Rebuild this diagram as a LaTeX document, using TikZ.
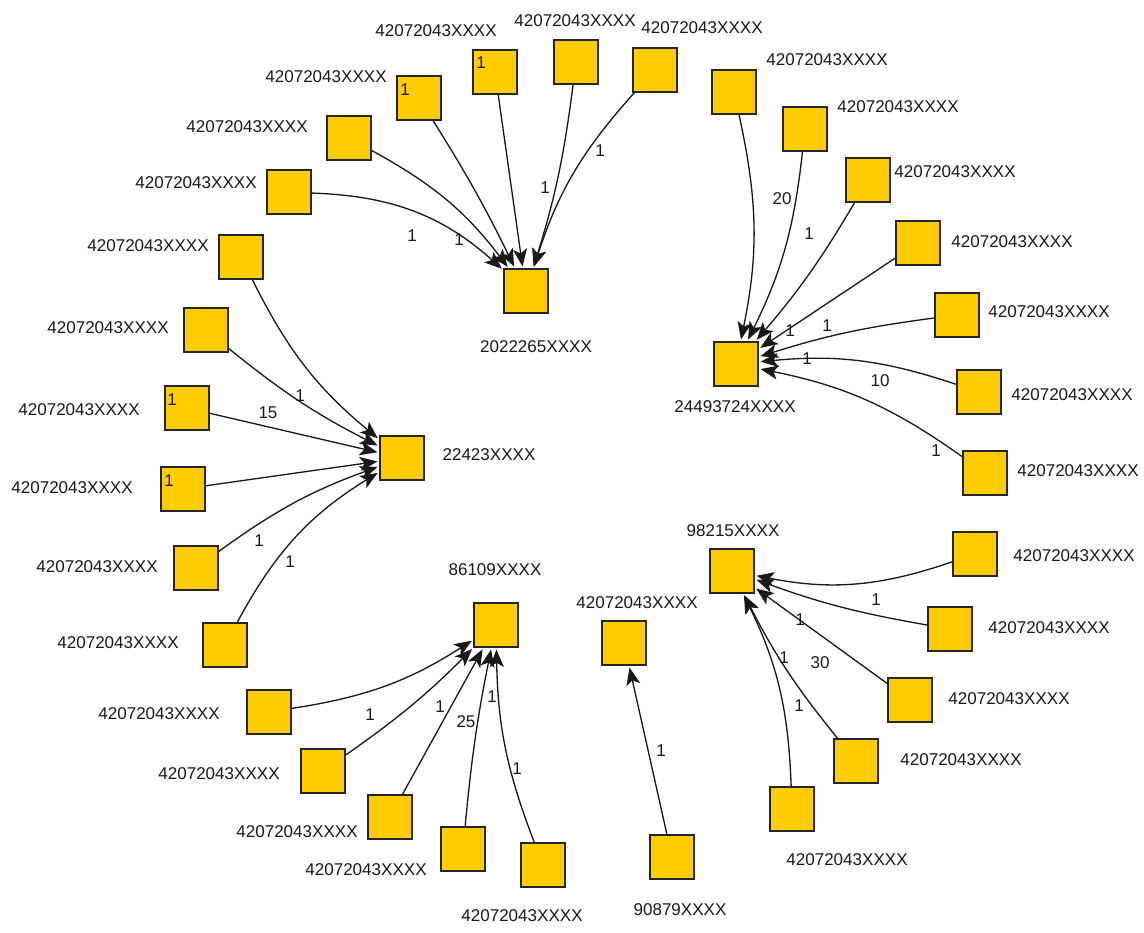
\documentclass[tikz,border=0pt]{standalone}
\usepackage{fontspec}
\setmainfont{Liberation Sans}
\usetikzlibrary{arrows.meta}
\definecolor{gold}{RGB}{255,204,0}
\tikzset{
  sq/.style={draw=black!85, fill=gold, minimum size=0.88cm, inner sep=0pt, line width=0.9pt},
  txt/.style={font=\fontsize{9.7}{11}\selectfont, inner sep=0pt, text=black!90},
  lbl/.style={font=\fontsize{9.7}{11}\selectfont, inner sep=0pt, text=black!90},
  edge/.style={line width=0.75pt, black!90, shorten >=1pt, -{Stealth[length=10pt,width=8pt,inset=2.5pt]}}
}
\begin{document}
\begin{tikzpicture}[x=0.02cm, y=-0.02cm]
\useasboundingbox (0,0) rectangle (1144,933);

% ---------- cluster A: 2022265XXXX ----------
\node[sq] (tA) at (526,291) {};
\node[txt] (tAl) at (536,347) {2022265XXXX};
\node[sq] (A1) at (289,192) {};
\node[txt] (A1l) at (196,183) {42072043XXXX};
\node[sq] (A2) at (349,138) {};
\node[txt] (A2l) at (247,127) {42072043XXXX};
\node[sq] (A3) at (419,98) {};
\node[txt] (A3l) at (326,77) {42072043XXXX};
\node[sq] (A4) at (495,72) {};
\node[txt] (A4l) at (436,31) {42072043XXXX};
\node[sq] (A5) at (576,62) {};
\node[txt] (A5l) at (575,21) {42072043XXXX};
\node[sq] (A6) at (655,70) {};
\node[txt] (A6l) at (702,28) {42072043XXXX};
\draw[edge] (A1) to[bend left=20] (tA);
\draw[edge] (A2) to[bend left=12] (tA);
\draw[edge] (A3) to[bend left=3] (tA);
\draw[edge] (A4) to (tA);
\draw[edge] (A5) to[bend left=5] (tA);
\draw[edge] (A6) to[bend right=12] (tA);
\node[lbl] (eA1) at (412,236) {1};
\node[lbl] (eA2) at (459,240) {1};
\node[lbl] (eA3) at (545,188) {1};
\node[lbl] (eA4) at (600,151) {1};
\node[lbl] (eA5) at (405,90) {1};
\node[lbl] (eA6) at (481,63) {1};

% ---------- cluster B: 24493724XXXX ----------
\node[sq] (tB) at (736,364) {};
\node[txt] (tBl) at (735,407) {24493724XXXX};
\node[sq] (B1) at (734,92) {};
\node[txt] (B1l) at (827,60) {42072043XXXX};
\node[sq] (B2) at (805,129) {};
\node[txt] (B2l) at (898,107) {42072043XXXX};
\node[sq] (B3) at (868,180) {};
\node[txt] (B3l) at (955,172) {42072043XXXX};
\node[sq] (B4) at (918,243) {};
\node[txt] (B4l) at (1012,242) {42072043XXXX};
\node[sq] (B5) at (957,315) {};
\node[txt] (B5l) at (1049,312) {42072043XXXX};
\node[sq] (B6) at (979,392) {};
\node[txt] (B6l) at (1072,395) {42072043XXXX};
\node[sq] (B7) at (985,473) {};
\node[txt] (B7l) at (1078,471) {42072043XXXX};
\draw[edge] (B1) to[bend left=12] (tB);
\draw[edge] (B2) to[bend left=10] (tB);
\draw[edge] (B3) to[bend left=5] (tB);
\draw[edge] (B4) to (tB);
\draw[edge] (B5) to[bend right=5] (tB);
\draw[edge] (B6) to[bend right=12] (tB);
\draw[edge] (B7) to[bend right=12] (tB);
\node[lbl] (eB1) at (782,199) {20};
\node[lbl] (eB2) at (809,234) {1};
\node[lbl] (eB3) at (790,331) {1};
\node[lbl] (eB4) at (827,326) {1};
\node[lbl] (eB5) at (807,359) {1};
\node[lbl] (eB6) at (880,381) {10};
\node[lbl] (eB7) at (936,451) {1};

% ---------- cluster C: 22423XXXX ----------
\node[sq] (tC) at (402,458) {};
\node[txt] (tCl) at (489,455) {22423XXXX};
\node[sq] (C1) at (241,257) {};
\node[txt] (C1l) at (148,246) {42072043XXXX};
\node[sq] (C2) at (206,330) {};
\node[txt] (C2l) at (108,328) {42072043XXXX};
\node[sq] (C3) at (187,408) {};
\node[txt] (C3l) at (79,410) {42072043XXXX};
\node[sq] (C4) at (183,489) {};
\node[txt] (C4l) at (72,488) {42072043XXXX};
\node[sq] (C5) at (196,568) {};
\node[txt] (C5l) at (97,567) {42072043XXXX};
\node[sq] (C6) at (225,645) {};
\node[txt] (C6l) at (118,643) {42072043XXXX};
\draw[edge] (C1) to[bend right=12] (tC);
\draw[edge] (C2) to[bend right=6] (tC);
\draw[edge] (C3) to (tC);
\draw[edge] (C4) to (tC);
\draw[edge] (C5) to[bend left=8] (tC);
\draw[edge] (C6) to[bend left=15] (tC);
\node[lbl] (eC1) at (300,396) {1};
\node[lbl] (eC2) at (268,413) {15};
\node[lbl] (eC3) at (259,541) {1};
\node[lbl] (eC4) at (290,562) {1};
\node[lbl] (eC5) at (172,400) {1};
\node[lbl] (eC6) at (169,481) {1};

% ---------- cluster D: 86109XXXX ----------
\node[sq] (tD) at (496,625) {};
\node[txt] (tDl) at (495,570) {86109XXXX};
\node[sq] (D1) at (269,712) {};
\node[txt] (D1l) at (159,714) {42072043XXXX};
\node[sq] (D2) at (323,771) {};
\node[txt] (D2l) at (219,774) {42072043XXXX};
\node[sq] (D3) at (390,817) {};
\node[txt] (D3l) at (297,832) {42072043XXXX};
\node[sq] (D4) at (463,849) {};
\node[txt] (D4l) at (366,870) {42072043XXXX};
\node[sq] (D5) at (543,865) {};
\node[txt] (D5l) at (522,916) {42072043XXXX};
\draw[edge] (D1) to[bend right=12] (tD);
\draw[edge] (D2) to[bend right=5] (tD);
\draw[edge] (D3) to (tD);
\draw[edge] (D4) to[bend left=3] (tD);
\draw[edge] (D5) to[bend left=10] (tD);
\node[lbl] (eD1) at (370,715) {1};
\node[lbl] (eD2) at (440,707) {1};
\node[lbl] (eD3) at (466,722) {25};
\node[lbl] (eD4) at (492,697) {1};
\node[lbl] (eD5) at (517,769) {1};

% ---------- pair E ----------
\node[sq] (tE) at (624,643) {};
\node[txt] (tEl) at (637,603) {42072043XXXX};
\node[sq] (E1) at (672,857) {};
\node[txt] (E1l) at (680,910) {90879XXXX};
\draw[edge] (E1) to (tE);
\node[lbl] (eE1) at (661,751) {1};

% ---------- cluster F: 98215XXXX ----------
\node[sq] (tF) at (732,571) {};
\node[txt] (tFl) at (733,531) {98215XXXX};
\node[sq] (F1) at (975,554) {};
\node[txt] (F1l) at (1074,556) {42072043XXXX};
\node[sq] (F2) at (950,629) {};
\node[txt] (F2l) at (1049,628) {42072043XXXX};
\node[sq] (F3) at (910,700) {};
\node[txt] (F3l) at (1009,699) {42072043XXXX};
\node[sq] (F4) at (856,761) {};
\node[txt] (F4l) at (961,760) {42072043XXXX};
\node[sq] (F5) at (792,809) {};
\node[txt] (F5l) at (847,860) {42072043XXXX};
\draw[edge] (F1) to[bend left=15] (tF);
\draw[edge] (F2) to[bend left=5] (tF);
\draw[edge] (F3) to (tF);
\draw[edge] (F4) to[bend left=6] (tF);
\draw[edge] (F5) to[bend right=12] (tF);
\node[lbl] (eF1) at (876,600) {1};
\node[lbl] (eF2) at (800,620) {1};
\node[lbl] (eF3) at (820,663) {30};
\node[lbl] (eF4) at (784,658) {1};
\node[lbl] (eF5) at (799,706) {1};
\end{tikzpicture}
\end{document}
